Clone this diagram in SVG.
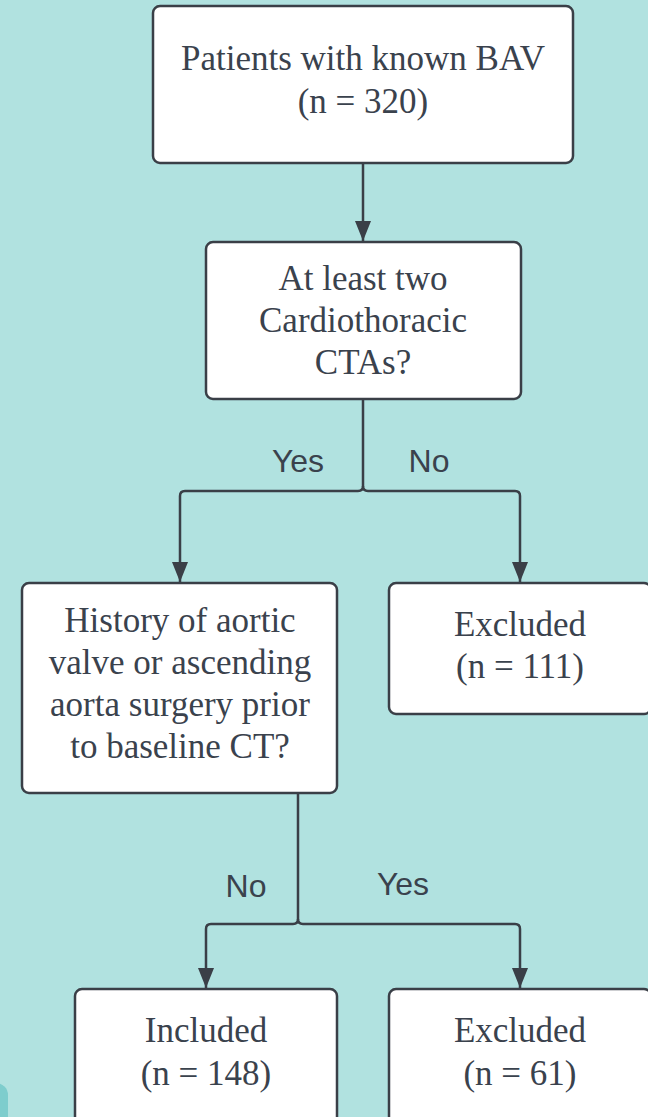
<svg xmlns="http://www.w3.org/2000/svg" width="648" height="1117" viewBox="0 0 648 1117">
<style>
.box{fill:#ffffff;stroke:#3a3f47;stroke-width:2.5}
.t{font-family:"Liberation Serif","Times New Roman",serif;font-size:35px;fill:#3a424d;text-anchor:middle}
.lbl{font-family:"Liberation Sans",Arial,sans-serif;font-size:32px;fill:#3a424d;text-anchor:middle}
.c{fill:none;stroke:#3a3f47;stroke-width:2.5}
</style>
<defs>
<marker id="ah" markerWidth="20" markerHeight="16" refX="20" refY="8" orient="auto" markerUnits="userSpaceOnUse" viewBox="0 0 20 16">
<path d="M0,0 L20,8 L0,16 Z" fill="#3a3f47"/>
</marker>
</defs>
<rect x="0" y="0" width="648" height="1117" fill="#b1e2e0"/>
<rect x="-50" y="1083" width="58" height="80" rx="12" fill="#7ecdcd"/>
<g id="connectors">
<path class="c" d="M363,163 V241" marker-end="url(#ah)"/>
<path class="c" d="M363,399 V486 Q363,491 358,491 H185 Q180,491 180,496 V582" marker-end="url(#ah)"/>
<path class="c" d="M363,486 Q363,491 368,491 H515 Q520,491 520,496 V582" marker-end="url(#ah)"/>
<path class="c" d="M298,793 V919 Q298,924 293,924 H211 Q206,924 206,929 V988" marker-end="url(#ah)"/>
<path class="c" d="M298,919 Q298,924 303,924 H515 Q520,924 520,929 V988" marker-end="url(#ah)"/>
</g>
<g id="labels">
<text class="lbl" x="298" y="472">Yes</text>
<text class="lbl" x="429" y="472">No</text>
<text class="lbl" x="246" y="897">No</text>
<text class="lbl" x="403" y="895">Yes</text>
</g>
<g id="n1">
<rect class="box" x="153" y="6" width="420" height="157" rx="7"/>
<text class="t" x="363" y="70">Patients with known BAV</text>
<text class="t" x="363" y="113">(n = 320)</text>
</g>
<g id="n2">
<rect class="box" x="206" y="242" width="315" height="157" rx="7"/>
<text class="t" x="363" y="290">At least two</text>
<text class="t" x="363" y="332">Cardiothoracic</text>
<text class="t" x="363" y="374">CTAs?</text>
</g>
<g id="n3">
<rect class="box" x="22" y="583" width="315" height="210" rx="7"/>
<text class="t" x="180" y="632">History of aortic</text>
<text class="t" x="180" y="674">valve or ascending</text>
<text class="t" x="180" y="716">aorta surgery prior</text>
<text class="t" x="180" y="758">to baseline CT?</text>
</g>
<g id="n4">
<rect class="box" x="389" y="583" width="262" height="131" rx="7"/>
<text class="t" x="520" y="636">Excluded</text>
<text class="t" x="520" y="678">(n = 111)</text>
</g>
<g id="n5">
<rect class="box" x="75" y="989" width="262" height="140" rx="7"/>
<text class="t" x="206" y="1042">Included</text>
<text class="t" x="206" y="1085">(n = 148)</text>
</g>
<g id="n6">
<rect class="box" x="389" y="989" width="262" height="140" rx="7"/>
<text class="t" x="520" y="1042">Excluded</text>
<text class="t" x="520" y="1085">(n = 61)</text>
</g>
</svg>
